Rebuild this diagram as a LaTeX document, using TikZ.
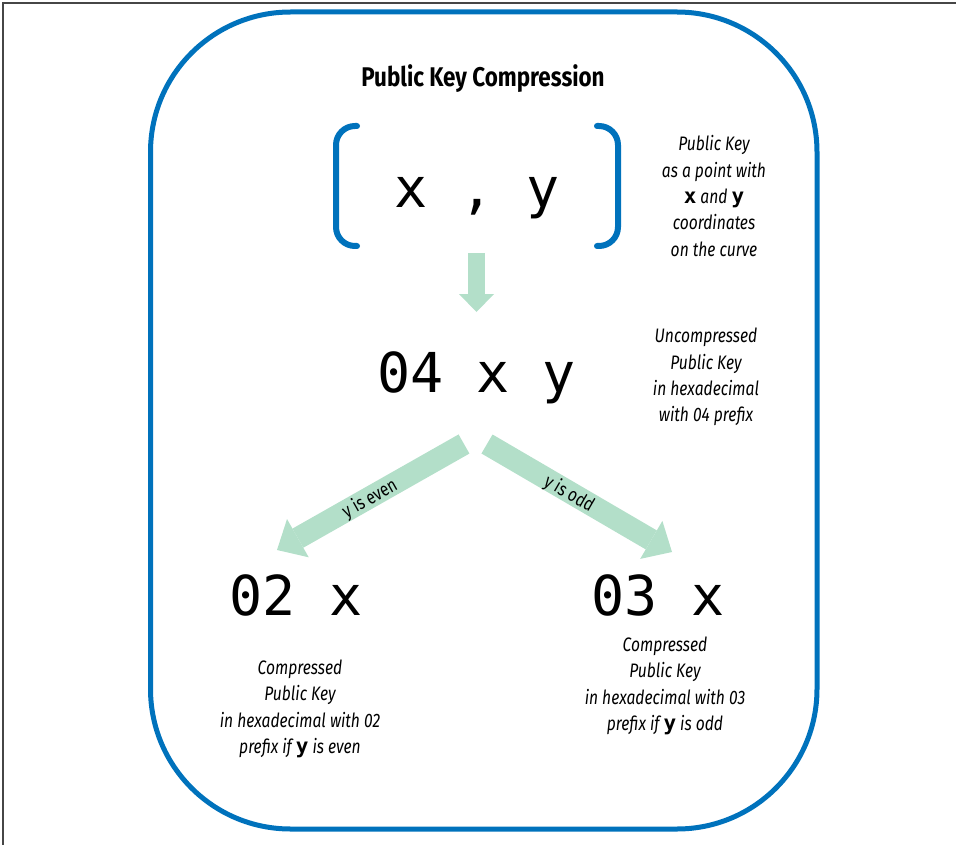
\documentclass[tikz,border=0pt]{standalone}
\usepackage{fontspec}
\usetikzlibrary{arrows.meta}
\newfontfamily\condfont[FakeStretch=0.8]{Fira Sans}
\newfontfamily\titlefont[FakeStretch=0.83]{Fira Sans}
\newfontfamily\codefont{DejaVu Sans Mono}
\definecolor{keyblue}{RGB}{0,114,188}
\definecolor{arrowgreen}{RGB}{179,223,201}
\definecolor{framegray}{RGB}{70,70,70}
\newcommand{\bxy}[1]{{\codefont\upshape\bfseries\fontsize{21}{26}\selectfont #1}}
\tikzset{
  titletext/.style={font=\titlefont\bfseries\fontsize{27}{32}\selectfont, inner sep=0pt},
  codetext/.style={font=\codefont\fontsize{55}{60}\selectfont, inner sep=0pt},
  notetext/.style={font=\condfont\itshape\fontsize{19.5}{26.3}\selectfont, align=center, inner sep=0pt},
  arrowlabel/.style={font=\condfont\fontsize{19}{22}\selectfont, inner sep=0pt},
  fatarrow/.style n args={3}{draw=arrowgreen, line width=#1,
    -{Triangle[width=#2, length=#3, line width=0pt, fill=arrowgreen]}},
  bracketline/.style={draw=keyblue, line width=6pt, rounded corners=19pt, line cap=round},
}
\begin{document}
\begin{tikzpicture}[x=1pt,y=-1pt]
\useasboundingbox (0,0) rectangle (956,845);
% outer frame (left and top edges only)
\draw[framegray, line width=1.6pt] (3,845) -- (3,3) -- (956,3);
% rounded panel
\draw[keyblue, line width=5pt, rounded corners=140pt] (150.5,12) rectangle (817,829);
% title
\node[titletext, anchor=base] (title) at (483,87) {Public Key Compression};
% point with brackets
\node[codetext, anchor=base] (point) at (477,208) {x , y};
\draw[bracketline] (357,126) -- (336,126) -- (336,246) -- (357,246);
\draw[bracketline] (597,126) -- (618,126) -- (618,246) -- (597,246);
\node[notetext] (pointnote) at (714,196) {Public Key\\as a point with\\\bxy{x} and \bxy{y}\\coordinates\\on the curve};
% down arrow
\coordinate (d1) at (476.5,253);
\coordinate (d2) at (476.5,312);
\draw[fatarrow={17pt}{35pt}{18pt}] (d1) -- (d2);
% uncompressed
\node[codetext, anchor=base] (unc) at (476.5,392) {04 x y};
\node[notetext] (uncnote) at (706,377) {Uncompressed\\Public Key\\in hexadecimal\\with 04 prefix};
% diagonal arrows
\coordinate (l1) at (464,444);
\coordinate (l2) at (277,550);
\coordinate (r1) at (487,444);
\coordinate (r2) at (672,552);
\draw[fatarrow={22pt}{44pt}{24pt}] (l1) -- (l2);
\draw[fatarrow={22pt}{44pt}{24pt}] (r1) -- (r2);
\node[arrowlabel, rotate=29.5] (evenlab) at (370,499) {y is even};
\node[arrowlabel, rotate=-30.2] (oddlab) at (569,494) {y is odd};
% compressed keys
\node[codetext, anchor=base] (even) at (296,615) {02 x};
\node[codetext, anchor=base] (odd) at (658,615) {03 x};
\node[notetext] (evennote) at (300,709) {Compressed\\Public Key\\in hexadecimal with 02\\prefix if \bxy{y} is even};
\node[notetext] (oddnote) at (665,686) {Compressed\\Public Key\\in hexadecimal with 03\\prefix if \bxy{y} is odd};
\end{tikzpicture}
\end{document}
